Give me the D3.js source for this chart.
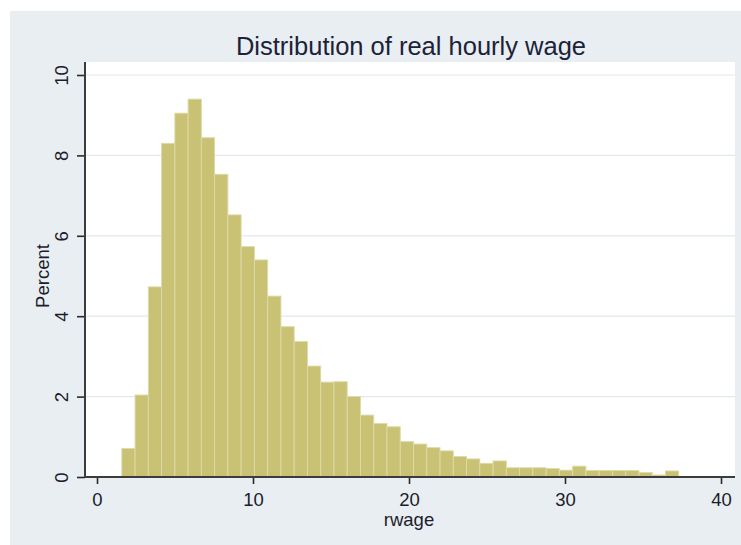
<!DOCTYPE html>
<html>
<head>
<meta charset="utf-8" />
<script src="https://d3js.org/d3.v7.min.js"></script>
<title>Distribution of real hourly wage</title>
<style>
  body { margin: 0; background: #fff; }
  text { font-family: "Liberation Sans", Arial, sans-serif; }
</style>
</head>
<body>
<div id="chart"></div>
<script>
// histogram of rwage: bins start at 1.59, width 0.85
var binStart = 1.59;
var binWidth = 0.85;
var percents = [0.71, 2.04, 4.73, 8.30, 9.05, 9.40, 8.44, 7.53, 6.52, 5.73,
                5.40, 4.50, 3.74, 3.37, 2.76, 2.36, 2.37, 2.00, 1.54, 1.33,
                1.25, 0.88, 0.82, 0.73, 0.65, 0.51, 0.45, 0.34, 0.40, 0.23,
                0.23, 0.23, 0.21, 0.17, 0.27, 0.16, 0.16, 0.16, 0.16, 0.11,
                0.05, 0.15];
var xTicks = [0, 10, 20, 30, 40];
var yTicks = [0, 2, 4, 6, 8, 10];

var W = 741, H = 545;
var plot = {left: 85, right: 735, top: 62, bottom: 477};

var svg = d3.select("#chart").append("svg")
    .attr("width", W)
    .attr("height", H);

// outer graph region
svg.append("rect")
    .attr("x", 10).attr("y", 11)
    .attr("width", W - 10).attr("height", H - 11)
    .attr("fill", "#e8eef2");

// plot region
svg.append("rect")
    .attr("x", plot.left).attr("y", plot.top)
    .attr("width", plot.right - plot.left).attr("height", plot.bottom - plot.top)
    .attr("fill", "#ffffff");

var x = d3.scaleLinear().domain([0, 40]).range([97, 721]);
var y = d3.scaleLinear().domain([0, 10]).range([477, 75]);

// grid lines
svg.append("g").selectAll("line")
    .data(yTicks.filter(function(d) { return d > 0; }))
    .enter().append("line")
      .attr("x1", plot.left).attr("x2", plot.right)
      .attr("y1", function(d) { return y(d); })
      .attr("y2", function(d) { return y(d); })
      .attr("stroke", "#e1e9ef")
      .attr("stroke-width", 1.2);

// bars
svg.append("g").selectAll("rect")
    .data(percents)
    .enter().append("rect")
      .attr("x", function(d, i) { return x(binStart + i * binWidth); })
      .attr("width", x(binWidth) - x(0))
      .attr("y", function(d) { return y(d); })
      .attr("height", function(d) { return y(0) - y(d); })
      .attr("fill", "#c9c275")
      .attr("stroke", "#dedaa8")
      .attr("stroke-width", 0.9);

// x axis
var xAxis = svg.append("g")
    .attr("transform", "translate(0," + plot.bottom + ")")
    .call(d3.axisBottom(x).tickValues(xTicks).tickSize(7).tickPadding(9).tickSizeOuter(0));
xAxis.select(".domain").remove();
xAxis.append("line")
    .attr("x1", plot.left - 1).attr("x2", plot.right)
    .attr("stroke", "#3c3c3c").attr("stroke-width", 2);
xAxis.selectAll(".tick line").attr("stroke", "#2a2a2a").attr("stroke-width", 1.6);
xAxis.selectAll(".tick text")
    .attr("font-size", 18.5)
    .attr("fill", "#1c1c2a");

// y axis
var yAxis = svg.append("g")
    .attr("transform", "translate(" + plot.left + ",0)")
    .call(d3.axisLeft(y).tickValues(yTicks).tickSize(8).tickSizeOuter(0));
yAxis.select(".domain").remove();
yAxis.append("line")
    .attr("y1", plot.top).attr("y2", plot.bottom + 1)
    .attr("stroke", "#3c3c3c").attr("stroke-width", 2);
yAxis.selectAll(".tick line").attr("stroke", "#2a2a2a").attr("stroke-width", 1.6);
yAxis.selectAll(".tick text")
    .attr("x", null).attr("dy", null)
    .attr("text-anchor", "middle")
    .attr("transform", "translate(-17,0) rotate(-90)")
    .attr("font-size", 18.5)
    .attr("fill", "#1c1c2a");

// axis titles
svg.append("text")
    .attr("x", (x(0) + x(40)) / 2)
    .attr("y", 526)
    .attr("text-anchor", "middle")
    .attr("font-size", 18.5)
    .attr("fill", "#1c1c2a")
    .text("rwage");

svg.append("text")
    .attr("transform", "translate(48.5," + ((y(0) + y(10)) / 2) + ") rotate(-90)")
    .attr("text-anchor", "middle")
    .attr("font-size", 18.5)
    .attr("fill", "#1c1c2a")
    .text("Percent");

// title
svg.append("text")
    .attr("x", 411)
    .attr("y", 54.5)
    .attr("text-anchor", "middle")
    .attr("font-size", 25.5)
    .attr("fill", "#1c2238")
    .text("Distribution of real hourly wage");
</script>
</body>
</html>
